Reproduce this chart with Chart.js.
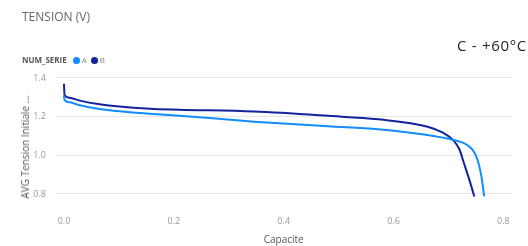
<!DOCTYPE html>
<html>
<head>
<meta charset="utf-8">
<script src="https://cdn.jsdelivr.net/npm/chart.js@4"></script>
<style>
  body { margin: 0; background: #fff; font-family: "Open Sans", "Noto Sans", sans-serif; }
  #wrap { position: relative; width: 528px; height: 246px; overflow: hidden; }
  #chart { position: absolute; left: 0; top: 0; }
  .title { position: absolute; left: 22px; top: 8px; font-size: 12px; color: #666; }
  .badge { position: absolute; right: 1px; top: 35px; font-size: 15px; letter-spacing: 0.7px; color: #252423; }
  .legend { position: absolute; left: 22px; top: 54px; font-size: 8px; color: #666; white-space: nowrap; }
  .legend b { color: #555; margin-right: 6px; }
  .legend i { display: inline-block; width: 7px; height: 7px; border-radius: 50%; vertical-align: -1px; margin-right: 2px; }
  .legend span { margin-right: 4px; color: #888; }
  .ytitle { position: absolute; left: 25px; top: 147px; font-size: 10px; color: #555; white-space: nowrap;
            transform: translate(-50%, -50%) rotate(-90deg); }
</style>
</head>
<body>
<div id="wrap">
  <canvas id="chart" width="528" height="246"></canvas>
  <div class="title">TENSION (V)</div>
  <div class="badge">C - +60°C</div>
  <div class="legend"><b>NUM_SERIE</b><i style="background:#118DFF"></i><span>A</span><i style="background:#12239E"></i><span>B</span></div>
  <div class="ytitle">AVG Tension Initiale ...</div>
</div>
<script>
(function() {
    "use strict";

// capacity / voltage
var capA = [0, 0.001, 0.01, 0.029, 0.065, 0.101, 0.156, 0.21, 0.346, 0.481, 0.572, 0.662, 0.708, 0.729, 0.744, 0.753, 0.76, 0.765];
var voltA = [1.31, 1.287, 1.274, 1.259, 1.24, 1.228, 1.215, 1.205, 1.174, 1.15, 1.135, 1.105, 1.08, 1.062, 1.028, 0.976, 0.89, 0.787];

var capB = [0, 0.001, 0.01, 0.029, 0.065, 0.101, 0.156, 0.21, 0.346, 0.481, 0.572, 0.662, 0.69, 0.708, 0.72, 0.728, 0.738, 0.747];
var voltB = [1.37, 1.312, 1.298, 1.283, 1.264, 1.252, 1.241, 1.236, 1.226, 1.204, 1.186, 1.148, 1.117, 1.08, 1.03, 0.96, 0.873, 0.787];

var xTicks = [0, 0.2, 0.4, 0.6, 0.8];
var yTicks = [0.8, 1.0, 1.2, 1.4];

function pts(xs, ys) {
    return xs.map(function(x, i) { return { x: x, y: ys[i] }; });
}

var ctx = document.getElementById("chart");

new Chart(ctx, {
    type: 'line',
    data: {
        datasets: [{
            label: 'A',
            data: pts(capA, voltA),
            borderColor: '#118DFF',
            borderWidth: 2,
            pointRadius: 0,
            cubicInterpolationMode: 'monotone'
        }, {
            label: 'B',
            data: pts(capB, voltB),
            borderColor: '#12239E',
            borderWidth: 2,
            pointRadius: 0,
            cubicInterpolationMode: 'monotone'
        }]
    },
    options: {
        responsive: false,
        animation: false,
        layout: { padding: { left: 0, top: 72, right: 14, bottom: 0 } },
        plugins: { legend: { display: false }, tooltip: { enabled: false } },
        scales: {
            x: {
                type: 'linear',
                min: -0.0145,
                max: 0.8145,
                afterBuildTicks: function(s) { s.ticks = xTicks.map(function(v) { return { value: v }; }); },
                afterFit: function(s) { s.height = 48; },
                grid: { display: false, drawTicks: false },
                border: { display: false },
                ticks: {
                    padding: 18,
                    color: '#999',
                    font: { family: 'Open Sans', size: 9 },
                    callback: function(v) { return v.toFixed(1); }
                },
                title: {
                    display: true,
                    text: 'Capacite',
                    color: '#555',
                    font: { family: 'Open Sans', size: 10 },
                    padding: { top: 1, bottom: 0 }
                }
            },
            y: {
                min: 0.779,
                max: 1.431,
                afterBuildTicks: function(s) { s.ticks = yTicks.map(function(v) { return { value: v }; }); },
                afterFit: function(s) { s.width = 56; },
                grid: { color: '#e6e6e6', drawTicks: false, lineWidth: 1 },
                border: { display: false },
                ticks: {
                    padding: 10,
                    color: '#999',
                    font: { family: 'Open Sans', size: 9 },
                    callback: function(v) { return v.toFixed(1); }
                }
            }
        }
    }
});

})();
</script>
</body>
</html>
